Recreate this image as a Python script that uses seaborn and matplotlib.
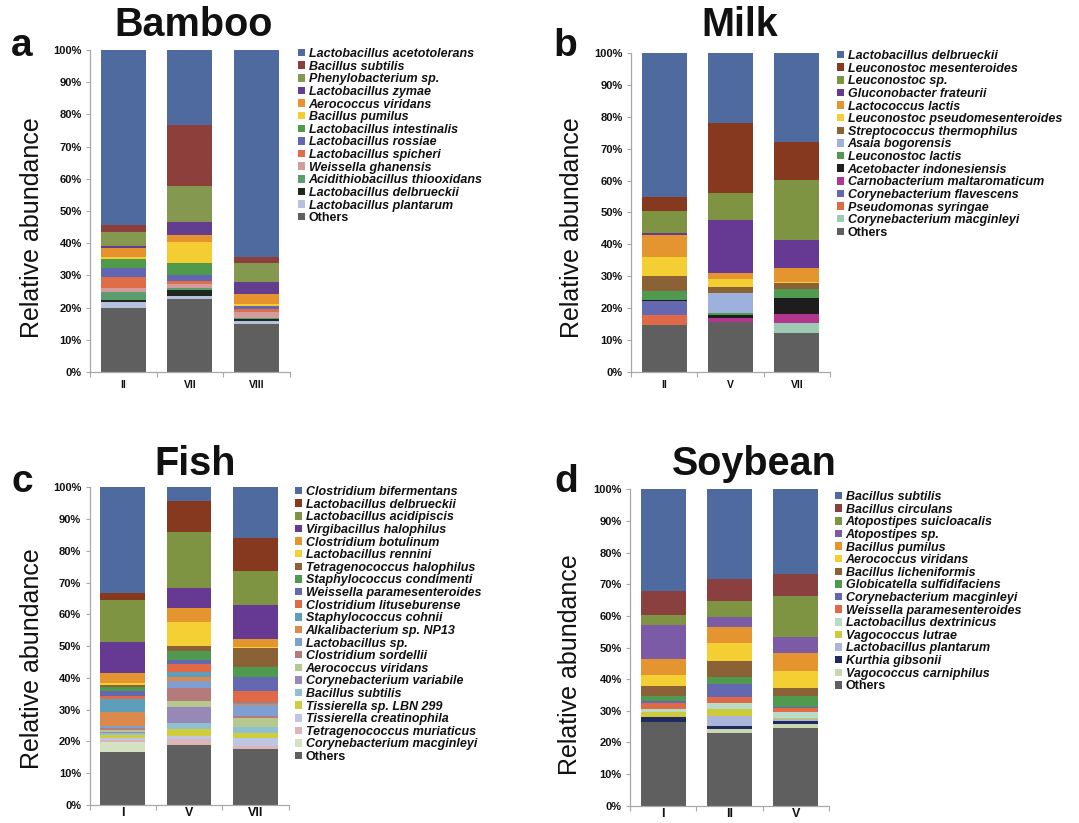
import numpy as np
import pandas as pd
import matplotlib
matplotlib.use("Agg")
import matplotlib.pyplot as plt
from matplotlib.patches import Patch
import seaborn as sns

# ---------------- a: Bamboo ----------------
bamboo_samples = ["II", "VII", "VIII"]
bamboo_taxa = [
    "Lactobacillus acetotolerans", "Bacillus subtilis", "Phenylobacterium sp.",
    "Lactobacillus zymae", "Aerococcus viridans", "Bacillus pumilus",
    "Lactobacillus intestinalis", "Lactobacillus rossiae", "Lactobacillus spicheri",
    "Weissella ghanensis", "Acidithiobacillus thiooxidans",
    "Lactobacillus delbrueckii", "Lactobacillus plantarum", "Others",
]
bamboo_colors = ["#4e6a9e", "#8c3f3b", "#84994f", "#633d8e", "#e6922e", "#f4cd33",
                 "#4f9a4b", "#6266b2", "#df6d47", "#d39b9a", "#5c9d70", "#1f2a1f",
                 "#b6c1df", "#5f5f5f"]
bamboo_II = [54.3, 2.2, 4.3, 0.8, 2.6, 0.7, 2.9, 2.7, 3.3, 1.2, 2.7, 0.7, 1.6, 20.0]
bamboo_VII = [23.4, 18.8, 11.2, 4.1, 2.0, 6.6, 3.8, 1.9, 1.0, 1.1, 0.7, 1.9, 0.7, 22.8]
bamboo_VIII = [64.2, 2.1, 5.8, 3.6, 3.2, 0.5, 0.2, 0.7, 1.0, 1.8, 0.3, 0.7, 0.9, 15.0]

# ---------------- b: Milk ----------------
milk_samples = ["II", "V", "VII"]
milk_taxa = [
    "Lactobacillus delbrueckii", "Leuconostoc mesenteroides", "Leuconostoc sp.",
    "Gluconobacter frateurii", "Lactococcus lactis", "Leuconostoc pseudomesenteroides",
    "Streptococcus thermophilus", "Asaia bogorensis", "Leuconostoc lactis",
    "Acetobacter indonesiensis", "Carnobacterium maltaromaticum",
    "Corynebacterium flavescens", "Pseudomonas syringae",
    "Corynebacterium macginleyi", "Others",
]
milk_colors = ["#4e6a9e", "#86391f", "#7e9443", "#663a92", "#e5952f", "#f3cf33",
               "#8a6236", "#9eb0dc", "#4f9a4f", "#1d1d1d", "#b2358f", "#6468b0",
               "#e06a47", "#9ccbb1", "#5f5f5f"]
milk_II = [45.1, 4.5, 6.9, 0.5, 7.1, 5.8, 4.9, 0.0, 2.8, 0.4, 0.0, 4.1, 3.4, 0.0, 14.5]
milk_V = [22.0, 21.9, 8.6, 16.4, 2.1, 2.6, 1.6, 6.4, 0.6, 0.9, 1.4, 0.0, 0.0, 0.0, 15.5]
milk_VII = [27.8, 12.1, 18.9, 8.6, 4.6, 0.2, 1.8, 0.0, 2.9, 4.9, 2.9, 0.0, 0.0, 3.2, 12.1]

# ---------------- c: Fish ----------------
fish_samples = ["I", "V", "VII"]
fish_taxa = [
    "Clostridium bifermentans", "Lactobacillus delbrueckii", "Lactobacillus acidipiscis",
    "Virgibacillus halophilus", "Clostridium botulinum", "Lactobacillus rennini",
    "Tetragenococcus halophilus", "Staphylococcus condimenti",
    "Weissella paramesenteroides", "Clostridium lituseburense", "Staphylococcus cohnii",
    "Alkalibacterium sp. NP13", "Lactobacillus sp.", "Clostridium sordellii",
    "Aerococcus viridans", "Corynebacterium variabile", "Bacillus subtilis",
    "Tissierella sp. LBN 299", "Tissierella creatinophila",
    "Tetragenococcus muriaticus", "Corynebacterium macginleyi", "Others",
]
fish_colors = ["#4e6a9e", "#86391f", "#7e9443", "#663a92", "#e5952f", "#f4d034",
               "#8a6236", "#4f9a4f", "#6468b0", "#e06a47", "#5d9fba", "#db8a4c",
               "#7f9fd2", "#b57b7b", "#b5c98f", "#9689b8", "#8fc0d2", "#cfcd3c",
               "#bfc5e2", "#dcb6b6", "#d4e2c3", "#5f5f5f"]
fish_I = [33.4, 2.1, 13.1, 9.7, 3.4, 0.4, 0.9, 1.2, 1.6, 0.8, 4.1, 4.4,
          0.8, 0.5, 0.5, 0.5, 0.7, 0.9, 0.5, 0.8, 3.1, 16.6]
fish_V = [4.2, 9.8, 17.8, 6.1, 4.4, 7.8, 1.5, 2.9, 1.2, 2.3, 1.8, 1.2,
          2.1, 4.2, 1.9, 4.9, 2.1, 2.1, 0.9, 1.9, 0.0, 18.9]
fish_VII = [16.1, 10.4, 10.5, 10.7, 2.5, 0.5, 6.0, 3.1, 4.3, 3.7, 0.5, 0.2,
            3.4, 0.6, 2.8, 0.0, 2.1, 1.6, 2.4, 1.0, 0.0, 17.6]

# ---------------- d: Soybean ----------------
soy_samples = ["I", "II", "V"]
soy_taxa = [
    "Bacillus subtilis", "Bacillus circulans", "Atopostipes suicloacalis",
    "Atopostipes sp.", "Bacillus pumilus", "Aerococcus viridans",
    "Bacillus licheniformis", "Globicatella sulfidifaciens",
    "Corynebacterium macginleyi", "Weissella paramesenteroides",
    "Lactobacillus dextrinicus", "Vagococcus lutrae", "Lactobacillus plantarum",
    "Kurthia gibsonii", "Vagococcus carniphilus", "Others",
]
soy_colors = ["#4e6a9e", "#8b4040", "#7e9443", "#7b5ba6", "#e5952f", "#f3cf33",
              "#8a6236", "#4f9a4f", "#6468b0", "#e06a47", "#b8dcc8", "#cdcb3b",
              "#abb6da", "#1f2a5e", "#c9d8b1", "#5f5f5f"]
soy_I = [32.0, 7.7, 3.2, 10.8, 5.0, 3.5, 3.0, 1.7, 0.7, 1.9, 0.8, 1.8, 0.0, 1.3, 0.2, 26.4]
soy_II = [28.3, 7.0, 5.2, 3.1, 5.1, 5.6, 5.1, 2.1, 4.2, 1.9, 1.9, 2.1, 3.2, 1.1, 1.2, 22.9]
soy_V = [26.8, 6.9, 12.9, 5.0, 5.7, 5.6, 2.4, 3.6, 0.3, 1.1, 2.0, 0.3, 0.5, 1.1, 1.3, 24.5]

W, H = 1079, 823
sns.set_theme(style="white")
plt.rcParams["font.family"] = ["Liberation Sans", "DejaVu Sans"]

fig = plt.figure(figsize=(W / 100, H / 100), dpi=100)


def fx(px):
    return px / W


def fy(py):
    return 1 - py / H


def draw_panel(rect, samples, taxa, colors, columns, xlabel_size, xlabel_pad, legend_xy):
    ax = fig.add_axes(rect)
    df = pd.DataFrame(dict(zip(samples, columns)), index=taxa)
    # cumulative top of every segment, counted from the bottom ("Others")
    tops = df.iloc[::-1].cumsum().iloc[::-1]
    for taxon, color in zip(taxa, colors):
        sns.barplot(x=samples, y=tops.loc[taxon].values, order=samples,
                    color=color, saturation=1, width=0.675, errorbar=None,
                    linewidth=0, ax=ax)
    ax.set_xlim(-0.5, 2.5)
    ax.set_ylim(0, 100)
    for side in ("top", "right"):
        ax.spines[side].set_visible(False)
    for side in ("left", "bottom"):
        ax.spines[side].set_color("#a8a8a8")
        ax.spines[side].set_linewidth(0.9)
    ax.set_yticks(np.arange(0, 101, 10))
    ax.set_yticklabels([f"{v}%" for v in range(0, 101, 10)],
                       fontsize=8, fontweight="bold", color="#111111")
    ax.tick_params(axis="y", direction="out", length=3, width=0.8,
                   color="#a8a8a8", pad=3, left=True)
    ax.set_xticks(range(len(samples)))
    ax.set_xticklabels(samples, fontsize=xlabel_size, fontweight="bold", color="#111111")
    ax.set_xticks([-0.5, 0.5, 1.5, 2.5], minor=True)
    ax.tick_params(axis="x", which="major", length=0, pad=xlabel_pad)
    ax.tick_params(axis="x", which="minor", direction="out", length=3.5,
                   width=0.8, color="#a8a8a8", bottom=True)
    ax.set_xlabel("")
    ax.set_ylabel("")
    ax.grid(False)

    handles = [Patch(facecolor=c, edgecolor="none") for c in colors]
    leg = ax.legend(handles, taxa, loc="upper left",
                    bbox_to_anchor=(fx(legend_xy[0]), fy(legend_xy[1])),
                    bbox_transform=fig.transFigure, frameon=False,
                    prop={"size": 9, "weight": "bold", "style": "italic"},
                    handlelength=0.55, handleheight=0.55, handletextpad=0.3,
                    labelspacing=0.05, borderpad=0, borderaxespad=0)
    for t in leg.get_texts():
        t.set_color("#111111")
        if t.get_text() == "Others":
            t.set_style("normal")
    return ax


draw_panel([fx(90), fy(372), fx(200), (372 - 50) / H],
           bamboo_samples, bamboo_taxa, bamboo_colors,
           [bamboo_II, bamboo_VII, bamboo_VIII], 7.5, 6, (298, 48))
draw_panel([fx(631), fy(371.5), fx(199), (371.5 - 53.3) / H],
           milk_samples, milk_taxa, milk_colors,
           [milk_II, milk_V, milk_VII], 7.5, 6, (837, 50))
draw_panel([fx(89.5), fy(805), fx(199), (805 - 487.3) / H],
           fish_samples, fish_taxa, fish_colors,
           [fish_I, fish_V, fish_VII], 9, 1.5, (295, 486))
draw_panel([fx(630), fy(805.7), fx(199), (805.7 - 489.3) / H],
           soy_samples, soy_taxa, soy_colors,
           [soy_I, soy_II, soy_V], 9, 1.5, (835, 491))

# panel titles, letters and axis labels
title_kw = dict(fontsize=28.5, fontweight="bold", ha="center", va="baseline", color="#111111")
fig.text(fx(194), fy(36), "Bamboo", **title_kw)
fig.text(fx(740), fy(36), "Milk", **title_kw)
fig.text(fx(195), fy(475), "Fish", **title_kw)
fig.text(fx(754), fy(475), "Soybean", **title_kw)

letter_kw = dict(fontsize=28, fontweight="bold", ha="center", va="baseline", color="#111111")
fig.text(fx(22), fy(56), "a", **letter_kw)
fig.text(fx(565), fy(56), "b", **letter_kw)
fig.text(fx(22), fy(492), "c", **letter_kw)
fig.text(fx(566), fy(492), "d", **letter_kw)

ylab_kw = dict(fontsize=18, rotation=90, ha="center", va="center", color="#111111")
fig.text(fx(32), fy(228), "Relative abundance", **ylab_kw)
fig.text(fx(572), fy(228), "Relative abundance", **ylab_kw)
fig.text(fx(32), fy(659), "Relative abundance", **ylab_kw)
fig.text(fx(570), fy(665), "Relative abundance", **ylab_kw)

fig.savefig("out.png", dpi=100)
